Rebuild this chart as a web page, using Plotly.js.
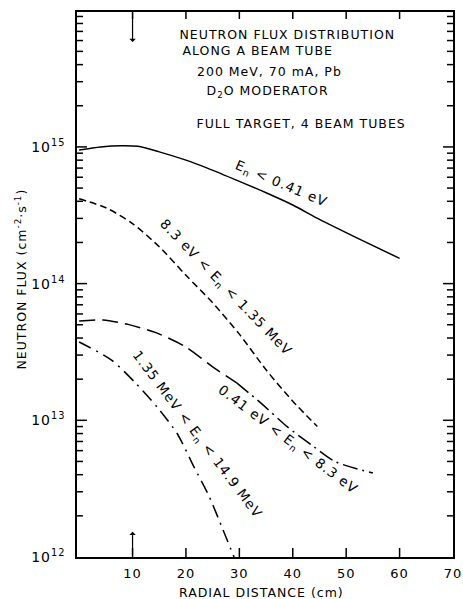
<!DOCTYPE html>
<html>
<head>
<meta charset="utf-8">
<script src="https://cdn.plot.ly/plotly-3.0.1.min.js"></script>
<style>
html,body{margin:0;padding:0;background:#fff;}
#chart{width:463px;height:599px;}
#chart text{letter-spacing:1px;}
</style>
</head>
<body>
<div id="chart"></div>
<script>
// Radial distance (cm) and neutron flux (cm^-2 s^-1)
var xThermal = [0, 4, 8, 11, 15, 20, 24, 30, 35, 40, 45, 52, 60];
var yThermal = [9.5e14, 1.0e15, 1.02e15, 1.01e15, 9.2e14, 8.0e14, 7.0e14, 5.6e14, 4.62e14, 3.76e14, 2.95e14, 2.16e14, 1.53e14];

var xEpi = [0, 5, 10, 15, 20, 25, 30, 35, 40, 44.6];
var yEpi = [4.17e14, 3.59e14, 2.75e14, 1.86e14, 1.15e14, 7.24e13, 4.27e13, 2.34e13, 1.38e13, 9.0e12];

var xMid = [0, 4.5, 9.5, 14.5, 20, 25, 29.5, 34, 39, 44, 48, 55];
var yMid = [5.33e13, 5.42e13, 4.99e13, 4.36e13, 3.44e13, 2.46e13, 1.88e13, 1.34e13, 8.95e12, 6.38e12, 4.97e12, 4.12e12];

var xFast = [0, 6, 10.7, 14.6, 18.4, 21.5, 24.3, 26.8, 29];
var yFast = [3.74e13, 2.77e13, 1.85e13, 1.25e13, 7.94e12, 4.56e12, 2.8e12, 1.63e12, 1.0e12];

var xTickVals = [10, 20, 30, 40, 50, 60, 70];
var xTickText = ['10', '20', '30', '40', '50', '60', '70'];
var yTickVals = [1e12, 1e13, 1e14, 1e15];
var yTickText = ['10<sup>12</sup>', '10<sup>13</sup>', '10<sup>14</sup>', '10<sup>15</sup>'];

var labelThermal = 'E<sub>n</sub> &lt; 0.41 eV';
var labelEpi = '8.3 eV &lt; E<sub>n</sub> &lt; 1.35 MeV';
var labelMid = '0.41 eV &lt; E<sub>n</sub> &lt; 8.3 eV';
var labelFast = '1.35 MeV &lt; E<sub>n</sub> &lt; 14.9 MeV';

var titleLines = ['NEUTRON FLUX DISTRIBUTION', 'ALONG A BEAM TUBE', '200 MeV, 70 mA, Pb', 'D<sub>2</sub>O MODERATOR', 'FULL TARGET, 4 BEAM TUBES'];

var FONT = 'DejaVu Sans, sans-serif';
var xRange = [-0.4, 70];
var yRange = [12, 15.987];
var PX_X = 376 / (xRange[1] - xRange[0]);   // pixels per cm
var PX_Y = 545 / (yRange[1] - yRange[0]);   // pixels per decade

function curve(x, y, dash) {
  return {x: x, y: y, type: 'scatter', mode: 'lines',
    line: {color: '#000', width: 1.5, dash: dash, shape: 'spline', smoothing: 0.7},
    hoverinfo: 'skip', showlegend: false};
}

// tick marks (inside, mirrored) built from the tick values
var tx = [], ty = [];
xTickVals.forEach(function (v) {
  if (v >= 70) return;
  tx.push(v, v, null); ty.push(Math.pow(10, yRange[0]), Math.pow(10, yRange[0] + 9 / PX_Y), null);
  tx.push(v, v, null); ty.push(Math.pow(10, yRange[1]), Math.pow(10, yRange[1] - 7 / PX_Y), null);
});
for (var d = 12; d < 16; d++) {
  for (var m = 1; m <= 9; m++) {
    var val = m * Math.pow(10, d);
    if (Math.log10(val) > yRange[1] || (m === 1 && d === 12)) continue;
    var len = (m === 1) ? 10 : 6;
    tx.push(xRange[0], xRange[0] + len / PX_X, null); ty.push(val, val, null);
    tx.push(xRange[1], xRange[1] - len / PX_X, null); ty.push(val, val, null);
  }
}

// the 0.41-8.3 eV curve: long dashes first, dash-dot further out
var midSplit = 6;
var data = [
  curve(xThermal, yThermal, 'solid'),
  curve(xEpi, yEpi, '7px,4px'),
  curve(xMid.slice(0, midSplit + 1), yMid.slice(0, midSplit + 1), '16px,7px'),
  curve(xMid.slice(midSplit), yMid.slice(midSplit), '15px,5px,2px,5px'),
  curve(xFast, yFast, '13px,6px,2px,6px'),
  {x: tx, y: ty, type: 'scatter', mode: 'lines', line: {color: '#000', width: 1.5},
   connectgaps: false, hoverinfo: 'skip', showlegend: false}
];

var titleX = [39.1, 33.5, 35.7, 35.2, 41.5];
var titleY = [15.826, 15.702, 15.555, 15.409, 15.175];

var annotations = [];
for (var i = 0; i < titleLines.length; i++) {
  annotations.push({x: titleX[i], y: titleY[i], xref: 'x', yref: 'y', text: titleLines[i],
    showarrow: false, font: {family: FONT, size: 12.5, color: '#000'}});
}
var curveLabels = [
  {t: labelThermal, x: 37.8, y: 14.729, a: 23},
  {t: labelEpi, x: 27.5, y: 13.968, a: 46},
  {t: labelMid, x: 39.1, y: 12.856, a: 37},
  {t: labelFast, x: 22.1, y: 12.892, a: 53}
];
curveLabels.forEach(function (c) {
  annotations.push({x: c.x, y: c.y, xref: 'x', yref: 'y', text: c.t, textangle: c.a,
    showarrow: false, font: {family: FONT, size: 13.5, color: '#000'}});
});
// arrows marking 10 cm
annotations.push({x: 10, y: 15.768, xref: 'x', yref: 'y', text: '', showarrow: true,
  ax: 0, ay: -30, arrowhead: 1, arrowsize: 0.9, arrowwidth: 1.2, arrowcolor: '#000'});
annotations.push({x: 10, y: 12.184, xref: 'x', yref: 'y', text: '', showarrow: true,
  ax: 0, ay: 25, arrowhead: 1, arrowsize: 0.9, arrowwidth: 1.2, arrowcolor: '#000'});
// axis titles
annotations.push({x: 0, y: 0.51, xref: 'paper', yref: 'paper', xanchor: 'center', yanchor: 'middle',
  xshift: -56, textangle: -90,
  text: 'NEUTRON FLUX (cm<sup>-2</sup>·s<sup>-1</sup>)', showarrow: false,
  font: {family: FONT, size: 12.5, color: '#000'}});
annotations.push({x: 0.492, y: 0, xref: 'paper', yref: 'paper', xanchor: 'center', yanchor: 'middle',
  yshift: -35, text: 'RADIAL DISTANCE (cm)', showarrow: false,
  font: {family: FONT, size: 12.5, color: '#000'}});

var layout = {
  width: 463, height: 599,
  margin: {l: 77, r: 10, t: 12, b: 42},
  paper_bgcolor: '#fff', plot_bgcolor: '#fff',
  showlegend: false,
  font: {family: FONT, color: '#000'},
  xaxis: {
    range: xRange, tickmode: 'array', tickvals: xTickVals, ticktext: xTickText,
    ticks: '', ticklabelstandoff: 4,
    showline: true, linecolor: '#000', linewidth: 1.5, mirror: true,
    showgrid: false, zeroline: false, tickfont: {family: FONT, size: 13, color: '#000'}
  },
  yaxis: {
    type: 'log', range: yRange, tickmode: 'array', tickvals: yTickVals, ticktext: yTickText,
    ticks: '', ticklabelstandoff: 7,
    showline: true, linecolor: '#000', linewidth: 1.5, mirror: true,
    showgrid: false, zeroline: false, tickfont: {family: FONT, size: 14, color: '#000'}
  },
  annotations: annotations
};

Plotly.newPlot('chart', data, layout, {displayModeBar: false});
</script>
</body>
</html>
